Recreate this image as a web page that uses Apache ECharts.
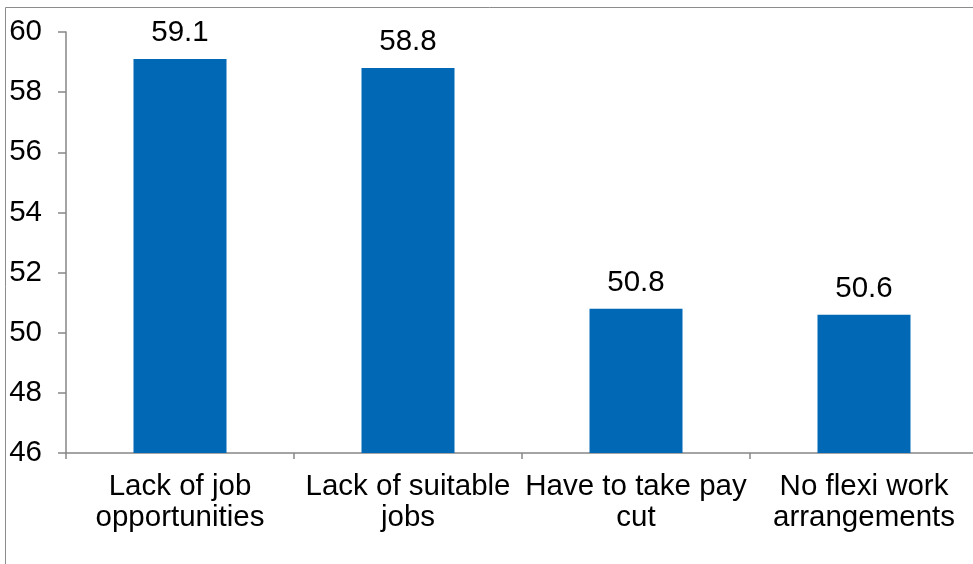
<!DOCTYPE html>
<html>
<head>
<meta charset="utf-8">
<script src="https://cdn.jsdelivr.net/npm/echarts@6/dist/echarts.min.js"></script>
<style>
  html, body { margin: 0; padding: 0; background: #ffffff; }
  #chart { width: 973px; height: 564px; }
</style>
</head>
<body>
<div id="chart"></div>
<script>
// Reasons cited, score per category
const categories = [
  'Lack of job opportunities',
  'Lack of suitable jobs',
  'Have to take pay cut',
  'No flexi work arrangements'
];
const values = [59.1, 58.8, 50.8, 50.6];
const yTicks = { min: 46, max: 60, interval: 2 };

const FONT = '"Liberation Sans", Arial, sans-serif';
const FONT_SIZE = 29.5;
const AXIS_GREY = '#868686';

// Greedy word wrap so that no line carries a trailing space
const measureCtx = document.createElement('canvas').getContext('2d');
measureCtx.font = FONT_SIZE + 'px ' + FONT;
function wrap(text, maxWidth) {
  const lines = [];
  let line = '';
  text.split(' ').forEach(word => {
    const next = line ? line + ' ' + word : word;
    if (line && measureCtx.measureText(next).width > maxWidth) {
      lines.push(line);
      line = word;
    } else {
      line = next;
    }
  });
  if (line) lines.push(line);
  return lines.join('\n');
}

const chart = echarts.init(document.getElementById('chart'), null, { renderer: 'canvas' });

chart.setOption({
  backgroundColor: '#ffffff',
  animation: false,
  graphic: [{
    // chart-area frame (runs off the right and bottom edges)
    type: 'rect',
    shape: { x: 5.5, y: 7.5, width: 1000, height: 600 },
    style: { fill: 'none', stroke: '#8c8c8c', lineWidth: 1 },
    silent: true
  }],
  grid: {
    left: 66, top: 32, width: 912, height: 421,
    containLabel: false,
    outerBoundsMode: 'none'
  },
  xAxis: {
    type: 'category',
    data: categories,
    axisLine: { show: true, lineStyle: { color: AXIS_GREY, width: 1.5 } },
    axisTick: { show: true, alignWithLabel: false, length: 6, lineStyle: { color: AXIS_GREY, width: 1.5 } },
    axisLabel: {
      interval: 0,
      margin: 18,
      color: '#000000',
      fontFamily: FONT,
      fontSize: FONT_SIZE,
      lineHeight: 31,
      align: 'center',
      formatter: v => wrap(v, 226)
    },
    splitLine: { show: false }
  },
  yAxis: {
    type: 'value',
    min: yTicks.min,
    max: yTicks.max,
    interval: yTicks.interval,
    axisLine: { show: true, lineStyle: { color: AXIS_GREY, width: 1.5 } },
    axisTick: { show: true, length: 8, lineStyle: { color: AXIS_GREY, width: 1.5 } },
    axisLabel: {
      margin: 24,
      color: '#000000',
      fontFamily: FONT,
      fontSize: FONT_SIZE
    },
    splitLine: { show: false }
  },
  series: [{
    type: 'bar',
    data: values,
    barWidth: 93,
    itemStyle: { color: '#0068B5' },
    label: {
      show: true,
      position: 'top',
      distance: 11,
      color: '#000000',
      fontFamily: FONT,
      fontSize: FONT_SIZE,
      formatter: p => p.value.toFixed(1)
    }
  }]
});
</script>
</body>
</html>
